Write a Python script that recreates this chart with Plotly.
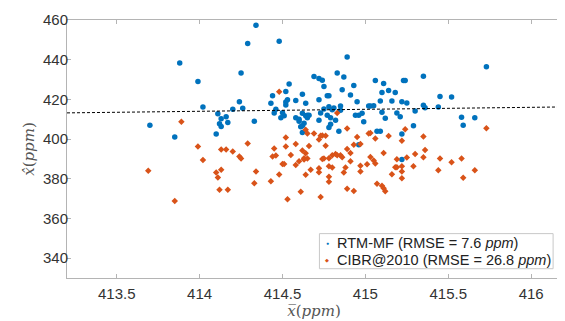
import plotly.graph_objects as go

# ---- data (ppm) ----
rtm_x = [413.70, 413.85, 413.88, 413.99, 414.02, 414.11, 414.13, 414.16, 414.12, 414.13,
         414.17, 414.10, 414.20, 414.24, 414.26, 414.25, 414.29, 414.34, 414.33, 414.48,
         414.43, 414.44, 414.45, 414.46, 414.49, 414.51, 414.52, 414.52, 414.53, 414.54,
         414.89, 414.83, 414.87, 414.69, 414.72, 414.74, 414.75, 414.62, 414.77, 414.78,
         414.86, 414.93, 414.91, 414.72, 414.58, 414.52, 414.64, 414.50, 414.58, 414.62,
         414.65, 414.66, 414.65, 414.60, 414.63, 414.62, 414.73, 414.75, 414.78, 414.80,
         414.81, 414.77, 414.79, 414.72, 414.82, 414.85, 414.85, 414.94, 414.96, 414.98,
         414.95, 415.02, 415.03, 414.99, 415.06, 415.11, 415.14, 415.18, 415.10, 415.23,
         415.24, 415.35, 415.16, 415.09, 415.22, 415.25, 415.05, 415.35, 415.36, 415.30,
         415.45, 415.52, 415.44, 415.73, 415.58, 415.66, 415.59, 415.29, 415.22, 415.07,
         415.09, 414.96, 415.10, 415.12, 415.19, 415.21, 414.84, 414.78, 414.79, 414.61,
         414.62, 415.22, 414.64, 414.60]
rtm_y = [407.0, 401.0, 438.3, 429.0, 416.2, 412.8, 410.3, 411.3, 407.7, 406.3,
         408.3, 402.5, 415.0, 418.8, 415.5, 433.3, 448.2, 457.3, 409.0, 449.3,
         418.0, 421.8, 413.2, 415.0, 410.8, 411.7, 424.0, 418.7, 419.8, 427.8,
         441.3, 433.3, 431.3, 431.5, 430.5, 429.7, 426.5, 422.6, 421.8, 421.8,
         424.8, 427.0, 422.2, 419.8, 419.5, 417.2, 418.0, 413.3, 410.7, 413.0,
         412.0, 412.0, 410.7, 409.0, 408.0, 406.7, 413.2, 415.2, 416.3, 414.8,
         415.7, 412.0, 410.7, 409.5, 409.5, 416.7, 414.5, 412.0, 412.0, 413.0,
         418.8, 416.7, 416.7, 408.7, 429.5, 428.0, 424.5, 423.5, 423.5, 429.5,
         429.5, 431.7, 419.2, 419.2, 418.8, 418.2, 416.8, 417.0, 415.8, 414.2,
         421.5, 421.2, 416.2, 436.5, 411.0, 410.8, 407.0, 406.7, 402.5, 404.0,
         404.0, 397.2, 413.5, 410.5, 413.2, 411.2, 404.0, 405.8, 407.5, 406.2,
         403.3, 389.7, 411.7, 410.0]

cibr_x = [413.89, 413.99, 414.13, 414.16, 414.20, 414.29, 414.24, 414.25, 414.02, 414.48,
          414.52, 414.52, 414.45, 414.44, 414.46, 413.69, 413.85, 414.10, 414.11, 414.13,
          414.12, 414.17, 414.34, 414.33, 414.43, 414.50, 414.51, 414.48, 414.53, 414.83,
          415.73, 415.24, 415.03, 415.06, 415.14, 415.35, 415.11, 415.03, 415.06, 415.19,
          415.25, 415.30, 415.35, 415.36, 415.45, 415.52, 415.58, 415.44, 415.66, 415.59,
          415.18, 415.19, 415.22, 415.22, 415.16, 415.29, 415.22, 415.07, 415.10, 415.11,
          415.12, 414.64, 414.65, 414.69, 414.73, 414.74, 414.76, 414.72, 414.89, 414.95,
          414.93, 415.02, 414.58, 414.66, 414.76, 414.55, 414.62, 414.63, 414.58, 414.60,
          414.63, 414.65, 414.74, 414.75, 414.78, 414.80, 414.82, 414.83, 414.85, 414.86,
          414.89, 414.91, 414.97, 414.97, 415.01, 415.05, 414.67, 414.64, 414.72, 414.72,
          414.80, 414.78, 414.78, 414.87, 414.89, 414.93, 414.61, 414.73, 414.97, 414.91,
          414.88, 414.78, 415.22, 414.64]
cibr_y = [408.7, 396.3, 394.7, 394.7, 393.8, 397.8, 391.2, 390.2, 389.5, 423.8,
          400.8, 396.3, 395.2, 391.2, 391.7, 384.0, 368.8, 383.2, 380.7, 384.5,
          374.5, 374.5, 383.7, 377.8, 378.7, 387.5, 387.5, 382.2, 369.7, 413.2,
          405.5, 405.0, 403.0, 400.3, 401.5, 401.3, 393.0, 391.0, 387.7, 389.8,
          390.7, 392.5, 390.8, 394.5, 390.2, 388.3, 390.2, 384.3, 384.3, 380.5,
          385.8, 385.8, 386.3, 383.7, 382.3, 386.3, 380.3, 377.5, 376.5, 375.2,
          373.7, 404.7, 402.8, 402.8, 401.7, 401.8, 401.7, 399.8, 405.3, 401.0,
          397.2, 402.8, 397.5, 396.5, 396.7, 392.0, 394.3, 390.3, 387.0, 388.8,
          389.7, 390.2, 390.0, 390.2, 390.3, 391.8, 392.5, 391.8, 391.8, 390.8,
          395.0, 393.0, 397.5, 386.5, 387.3, 389.2, 384.5, 382.0, 385.3, 383.3,
          385.7, 381.0, 378.5, 383.2, 375.0, 373.8, 373.5, 370.8, 383.7, 388.8,
          385.7, 386.3, 399.2, 392.8]

x_range = [413.2, 416.18]
y_range = [330, 460]
x_ticks = [413.5, 414, 414.5, 415, 415.5, 416]
x_ticklabels = ["413.5", "414", "414.5", "415", "415.5", "416"]
y_ticks = [340, 360, 380, 400, 420, 440, 460]
legend_labels = ["RTM-MF (RMSE = 7.6 <i>ppm</i>)", "CIBR@2010 (RMSE = 26.8 <i>ppm</i>)"]

BLUE = "#0072BD"
ORANGE = "#D95319"
SANS = "Liberation Sans, Arial, Helvetica, sans-serif"
AXC = "#b4b4b4"

fig = go.Figure()
fig.add_trace(go.Scatter(
    x=rtm_x, y=rtm_y, mode="markers",
    marker=dict(symbol="circle", size=5.5, color=BLUE, line=dict(width=0)),
    name=legend_labels[0], showlegend=False))
fig.add_trace(go.Scatter(
    x=cibr_x, y=cibr_y, mode="markers",
    marker=dict(symbol="diamond", size=5, color=ORANGE, line=dict(width=0)),
    name=legend_labels[1], showlegend=False))
# 1:1 reference line
fig.add_trace(go.Scatter(
    x=x_range, y=x_range, mode="lines",
    line=dict(color="black", width=1, dash="3px,2px"),
    showlegend=False, hoverinfo="skip"))

axis_common = dict(
    showgrid=False, zeroline=False, showline=True, linecolor=AXC,
    linewidth=1, mirror="ticks", ticks="inside", ticklen=4, tickcolor=AXC,
    tickfont=dict(family=SANS, size=15, color="#333333"),
)

# manual legend box (MATLAB style)
shapes = [dict(type="rect", xref="paper", yref="paper",
               x0=0.511, x1=0.984, y0=0.036, y1=0.172,
               line=dict(color="#c8c8c8", width=1), fillcolor="white", layer="above")]
annotations = []
for i, (lab, col, sym, fs) in enumerate(zip(legend_labels, [BLUE, ORANGE], ["●", "◆"], [5, 5])):
    yy = [0.135, 0.071][i]
    annotations.append(dict(xref="paper", yref="paper", x=0.527, y=yy, text=sym,
                            showarrow=False, xanchor="center", yanchor="middle",
                            font=dict(size=fs, color=col)))
    annotations.append(dict(xref="paper", yref="paper", x=0.543, y=yy, text=lab,
                            showarrow=False, xanchor="left", yanchor="middle",
                            font=dict(family=SANS, size=14.5, color="#222222")))

# the page body has an 8px margin, so the figure is sized to fill the rest of the window
fig.update_layout(
    width=557, height=313,
    margin=dict(l=59, r=3, t=9, b=43),
    paper_bgcolor="white", plot_bgcolor="white",
    xaxis=dict(range=x_range, tickvals=x_ticks, ticktext=x_ticklabels,
               ticklabelstandoff=2,
               title=dict(text="<i>x̅</i>(<i>ppm</i>)", standoff=3,
                          font=dict(family="DejaVu Serif, serif", size=15, color="#555555")),
               **axis_common),
    yaxis=dict(range=y_range, tickvals=y_ticks, ticklabelstandoff=-5,
               title=dict(text="<i>x̂</i>(<i>ppm</i>)", standoff=4,
                          font=dict(family="DejaVu Serif, serif", size=15, color="#555555")),
               **axis_common),
    shapes=shapes, annotations=annotations,
    showlegend=False,
)

fig.write_html("out.html")
